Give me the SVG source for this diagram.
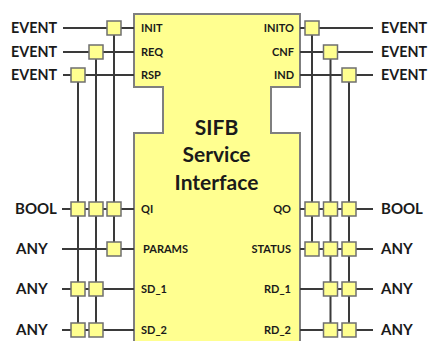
<svg xmlns="http://www.w3.org/2000/svg" width="428" height="341" viewBox="0 0 428 341">
<style>
.bg{fill:#ffffff}
.blk{fill:#ffff90;stroke:#7f7f7f;stroke-width:2}
.ln{stroke:#3a3a3a;stroke-width:2;fill:none}
.sq{fill:#ffff90;stroke:#6f6f6f;stroke-width:1.5}
.t{font-family:Lato,"Liberation Sans",sans-serif;font-weight:bold;fill:#1a1a1a}
.ext{font-size:15px}
.port{font-size:11px}
.title{font-size:21px;text-anchor:middle}
.r{text-anchor:end}
</style>
<rect class="bg" x="0" y="0" width="428" height="341"/>
<g id="sifb">
<path class="blk" d="M134,14 H300 V87 H271 V133 H300 V346 H134 V133 H163 V87 H134 Z"/>
<text class="t title" x="216.5" y="135">SIFB</text>
<text class="t title" x="216.5" y="162">Service</text>
<text class="t title" x="216.5" y="190">Interface</text>
<text class="t port" x="141" y="32">INIT</text>
<text class="t port" x="141" y="56">REQ</text>
<text class="t port" x="141" y="79">RSP</text>
<text class="t port" x="141" y="213">QI</text>
<text class="t port" x="143" y="253">PARAMS</text>
<text class="t port" x="141" y="293">SD_1</text>
<text class="t port" x="141" y="334">SD_2</text>
<text class="t port r" x="294" y="32">INITO</text>
<text class="t port r" x="294" y="56">CNF</text>
<text class="t port r" x="294" y="79">IND</text>
<text class="t port r" x="291" y="213">QO</text>
<text class="t port r" x="291" y="253">STATUS</text>
<text class="t port r" x="291" y="293">RD_1</text>
<text class="t port r" x="291" y="334">RD_2</text>
</g>
<g id="connectors">
<path class="ln" d="M63,28 H134 M63,52 H134 M63,75 H134 M62,209 H134 M62,249 H134 M62,289 H134 M62,330 H134"/>
<path class="ln" d="M300,28 H373 M300,52 H373 M300,75 H373 M300,209 H373 M300,249 H373 M300,289 H373 M300,330 H373"/>
<path class="ln" d="M78,75 V330 M96,52 V330 M114,28 V249"/>
<path class="ln" d="M312,28 V249 M330.5,52 V330 M349,75 V330"/>
</g>
<g id="left-labels">
<text class="t ext" x="11" y="33" textLength="46" lengthAdjust="spacingAndGlyphs">EVENT</text>
<text class="t ext" x="11" y="57" textLength="46" lengthAdjust="spacingAndGlyphs">EVENT</text>
<text class="t ext" x="11" y="80" textLength="46" lengthAdjust="spacingAndGlyphs">EVENT</text>
<text class="t ext" x="15" y="214">BOOL</text>
<text class="t ext" x="16" y="254">ANY</text>
<text class="t ext" x="16" y="294">ANY</text>
<text class="t ext" x="16" y="335">ANY</text>
</g>
<g id="right-labels">
<text class="t ext" x="381" y="33" textLength="46" lengthAdjust="spacingAndGlyphs">EVENT</text>
<text class="t ext" x="381" y="57" textLength="46" lengthAdjust="spacingAndGlyphs">EVENT</text>
<text class="t ext" x="381" y="80" textLength="46" lengthAdjust="spacingAndGlyphs">EVENT</text>
<text class="t ext" x="381" y="214">BOOL</text>
<text class="t ext" x="381" y="254">ANY</text>
<text class="t ext" x="381" y="294">ANY</text>
<text class="t ext" x="381" y="335">ANY</text>
</g>
<g id="with-left">
<rect class="sq" x="107" y="21" width="14" height="14"/>
<rect class="sq" x="89" y="45" width="14" height="14"/>
<rect class="sq" x="71" y="68" width="14" height="14"/>
<rect class="sq" x="71" y="202" width="14" height="14"/>
<rect class="sq" x="89" y="202" width="14" height="14"/>
<rect class="sq" x="107" y="202" width="14" height="14"/>
<rect class="sq" x="107" y="242" width="14" height="14"/>
<rect class="sq" x="71" y="282" width="14" height="14"/>
<rect class="sq" x="89" y="282" width="14" height="14"/>
<rect class="sq" x="71" y="323" width="14" height="14"/>
<rect class="sq" x="89" y="323" width="14" height="14"/>
</g>
<g id="with-right">
<rect class="sq" x="305" y="21" width="14" height="14"/>
<rect class="sq" x="323.5" y="45" width="14" height="14"/>
<rect class="sq" x="342" y="68" width="14" height="14"/>
<rect class="sq" x="305" y="202" width="14" height="14"/>
<rect class="sq" x="323.5" y="202" width="14" height="14"/>
<rect class="sq" x="342" y="202" width="14" height="14"/>
<rect class="sq" x="305" y="242" width="14" height="14"/>
<rect class="sq" x="323.5" y="242" width="14" height="14"/>
<rect class="sq" x="342" y="242" width="14" height="14"/>
<rect class="sq" x="323.5" y="282" width="14" height="14"/>
<rect class="sq" x="342" y="282" width="14" height="14"/>
<rect class="sq" x="323.5" y="323" width="14" height="14"/>
<rect class="sq" x="342" y="323" width="14" height="14"/>
</g>
</svg>
